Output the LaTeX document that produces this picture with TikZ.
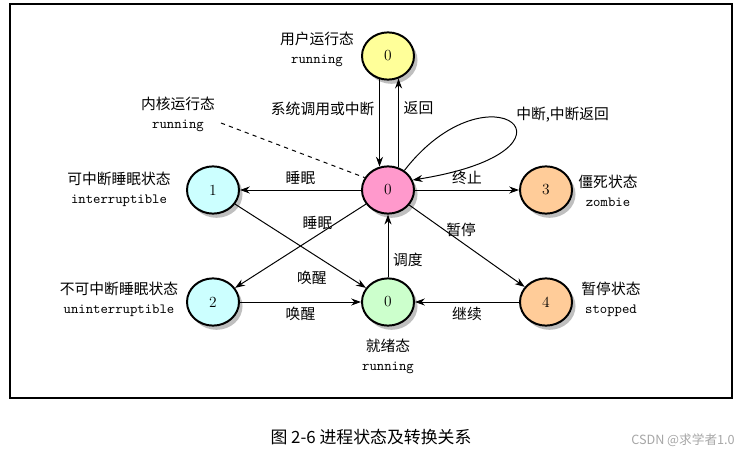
\documentclass[tikz,border=0pt]{standalone}
\usepackage{fontspec}
\newfontfamily\cjk{Noto Sans CJK SC}
\usetikzlibrary{shapes.geometric,shadows,arrows.meta}
\definecolor{userfill}{HTML}{FFFF99}
\definecolor{kernfill}{HTML}{FF99CC}
\definecolor{readyfill}{HTML}{CCFFCC}
\definecolor{sleepfill}{HTML}{CCFFFF}
\definecolor{endfill}{HTML}{FFCC99}
\newcommand{\en}[1]{{\ttfamily\fontsize{10}{13.5}\selectfont #1}}
\tikzset{
    state/.style={ellipse, draw, line width=1.4pt, minimum width=1.3cm, minimum height=1.18cm, inner sep=0pt,
        font=\fontsize{11}{13}\selectfont,
        drop shadow={shadow xshift=2.5pt, shadow yshift=-3pt, fill=black!25, opacity=1}},
    statetext/.style={align=center, font=\cjk\fontsize{10.5}{13.5}\selectfont},
    edgetext/.style={font=\cjk\fontsize{10.5}{12}\selectfont}
}
\begin{document}
\begin{tikzpicture}[x=0.025cm, y=-0.025cm, >={Stealth[length=7pt,width=5pt]}, line width=0.7pt]
    \useasboundingbox (0,0) rectangle (750,453);
    \draw[line width=1pt] (10,4) rectangle (732,398);
    \path   node[state, fill=userfill] (U) at (388,56) {0}
            node[state, fill=kernfill] (K) at (388,190) {0}
            node[state, fill=readyfill] (R) at (388,302) {0}
            node[state, fill=sleepfill] (I) at (213,190) {1}
            node[state, fill=sleepfill] (N) at (213,302) {2}
            node[state, fill=endfill] (Z) at (546,190) {3}
            node[state, fill=endfill] (S) at (546,302) {4};
    \path   node[statetext] (Ut) at (317,49.5) {用户运行态\\\en{running}}
            node[statetext] (Kt) at (178,114) {内核运行态\\\en{running}}
            node[statetext] (It) at (119,189.5) {可中断睡眠状态\\\en{interruptible}}
            node[statetext] (Nt) at (119,299.5) {不可中断睡眠状态\\\en{uninterruptible}}
            node[statetext] (Rt) at (388,356) {就绪态\\\en{running}}
            node[statetext] (Zt) at (608,190.5) {僵死状态\\\en{zombie}}
            node[statetext] (St) at (611,299.5) {暂停状态\\\en{stopped}};
    \coordinate (D) at (221,123);
    \draw[dashed] (D) -- (K.152);
    \draw[->] (U.250) -- node[edgetext, left, pos=0.34] {系统调用或中断} (K.110);
    \draw[->] (K.65) -- node[edgetext, right, pos=0.67] {返回} (U.295);
    \draw[->] (K.50) .. controls (490,60) and (600,150) .. node[edgetext, right, pos=0.45, xshift=4pt, yshift=3pt] {中断,中断返回} (K.22);
    \draw[->] (K) -- node[edgetext, above] {睡眠} (I);
    \draw[->] (K) -- node[edgetext, above, pos=0.37] {睡眠} (N);
    \draw[->] (I) -- node[edgetext, below left, pos=0.74] {唤醒} (R);
    \draw[->] (N) -- node[edgetext, below] {唤醒} (R);
    \draw[->] (R) -- node[edgetext, right, pos=0.28] {调度} (K);
    \draw[->] (K) -- node[edgetext, above] {终止} (Z);
    \draw[->] (K) -- node[edgetext, above, pos=0.45] {暂停} (S);
    \draw[->] (S) -- node[edgetext, below] {继续} (R);
    \path   node[font=\cjk\fontsize{12}{14}\selectfont] (T) at (371,437) {图 2-6 进程状态及转换关系}
            node[font=\cjk\fontsize{9}{11}\selectfont, text=black!35] (W) at (683,440) {CSDN @求学者1.0};
\end{tikzpicture}
\end{document}
